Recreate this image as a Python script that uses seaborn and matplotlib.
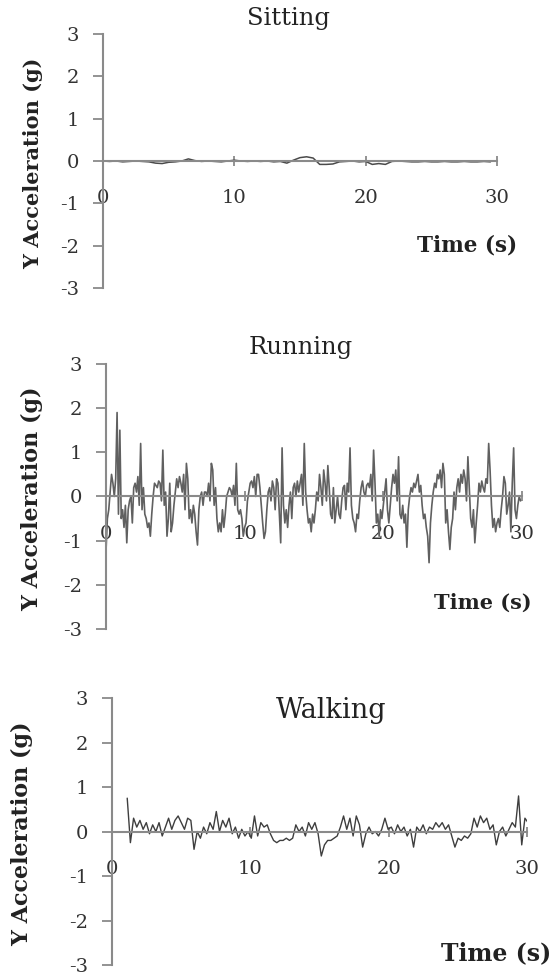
import numpy as np
import pandas as pd
import matplotlib
matplotlib.use("Agg")
import matplotlib.pyplot as plt
import seaborn as sns

# 數據 (Y acceleration, g)
sit_step = 0.5
sit_y = [0.00, -0.01, 0.00, -0.02, -0.01, 0.00, -0.01, -0.02, -0.05, -0.06,
         -0.03, -0.02, 0.00, 0.05, 0.01, -0.01, 0.00, -0.01, -0.02, 0.00,
         0.02, 0.00, -0.01, 0.00, -0.01, 0.00, -0.02, -0.01, -0.05, 0.02,
         0.08, 0.10, 0.07, -0.08, -0.08, -0.07, -0.02, -0.01, 0.00, -0.02,
         -0.01, -0.08, -0.06, -0.08, -0.01, 0.00, -0.01, -0.02, -0.02, -0.01,
         -0.02, -0.02, -0.01, -0.02, -0.02, -0.01, -0.02, -0.02, -0.01, -0.02]

run_step = 0.1
run_y = [-1.25, -0.5, -0.3, 0.1, 0.5, 0.3, 0.0, 0.4,
         1.9, -0.4, 1.5, -0.5, -0.3, -0.7, -0.2, -1.05, -0.3, -0.1, 0.0, -0.6, 0.2, 0.3, 0.1, 0.45, -0.2,
         1.2, -0.3, 0.2, -0.4, -0.5, -0.7, -0.6, -0.9, -0.4, 0.0, 0.3, 0.25, 0.2, 0.35, 0.3, -0.1,
         1.05, -0.2, 0.1, -0.9, -0.5, 0.3, -0.8, -0.6, -0.2, 0.1, 0.4, 0.2, 0.45, 0.3, 0.1, 0.5, -0.3,
         0.75, 0.4, -0.5, -0.3, -0.6, -0.2, -0.4, -0.8, -1.1, -0.3, 0.0, 0.1, -0.2, 0.1, 0.1, 0.0, 0.3, -0.1,
         0.75, 0.6, -0.2, 0.2, -0.5, -0.8, -0.6, -0.8, -0.3, -0.7, -0.4, 0.0, 0.1, 0.2, 0.15, 0.0, 0.25, -0.2,
         0.75, -0.3, -0.4, -0.3, -0.5, -0.9, -0.7, -0.6, -0.1, 0.1, 0.3, 0.35, 0.2, 0.45, 0.0, 0.5,
         0.5, 0.2, -0.2, -0.6, -0.95, -0.8, -0.3, 0.1, 0.2, -0.1, 0.35, 0.2, -0.3, 0.4, 0.3, -0.4, -1.05,
         1.1, -0.2, -0.6, -0.3, -0.7, -0.2, 0.1, -0.5, 0.2, 0.3, 0.0, 0.35, 0.1, 0.3, 0.5, -0.2,
         1.2, 0.1, -0.3, -0.6, -0.5, -0.8, -0.4, -0.6, -0.3, 0.1, -0.1, 0.5, 0.2, -0.2, 0.6, 0.3, -0.1,
         0.7, 0.2, -0.4, -0.5, 0.2, -0.6, -0.3, 0.0, -0.4, -0.5, -0.1, 0.2, 0.25, -0.3, 0.3, 0.1,
         1.1, -0.2, -0.5, -0.6, -0.8, -0.4, -0.5, -0.1, 0.2, 0.35, 0.1, 0.0, 0.25, 0.3, 0.2, 0.5, -0.1,
         1.05, 0.3, -0.6, -0.4, -0.9, -0.3, -0.5, -0.2, 0.1, 0.4, -0.3, -0.6, -0.2, 0.2, 0.5, 0.3, 0.6, -0.1,
         0.9, -0.4, -0.5, -0.2, -0.6, -0.4, -1.15, -0.3, 0.0, 0.2, 0.1, 0.3, 0.2, 0.35, 0.5, 0.1,
         0.25, -0.2, -0.5, -0.4, -0.7, -0.9, -1.5, -0.6, -0.2, 0.1, 0.3, 0.2, 0.5, 0.4, 0.6, 0.2,
         0.75, 0.5, -0.6, -0.3, -0.8, -1.2, -0.7, -0.5, 0.1, -0.3, 0.2, 0.4, 0.1, 0.5, 0.3, 0.6, 0.4, -0.1,
         0.9, 0.2, -0.5, -0.7, -0.3, -1.05, -0.6, -0.2, 0.3, 0.1, 0.35, 0.2, 0.1, 0.4, 0.3,
         1.2, 0.6, -0.2, -0.7, -0.5, -0.8, -0.6, -0.5, -0.7, -0.3, 0.0, 0.45, 0.3, -0.4, -0.2, 0.1, -0.8, 0.3,
         1.1, -0.3, -0.5, -0.2, 0.0, -0.1]

walk_start = 1.1
walk_step = 0.23
walk_y = [0.75, -0.25, 0.3, 0.1, 0.25, 0.05, 0.2, -0.05, 0.15, 0.0,
          0.2, -0.1, 0.1, 0.3, 0.05, 0.25, 0.35, 0.2, 0.05, 0.3,
          0.25, -0.4, 0.0, -0.15, 0.1, -0.05, 0.2, 0.05, 0.45, 0.0,
          0.25, 0.1, 0.3, -0.05, 0.1, -0.15, 0.05, -0.1, 0.0, -0.15,
          0.35, -0.1, 0.2, 0.1, 0.15, -0.05, -0.2, -0.25, -0.2, -0.2,
          -0.15, -0.2, -0.15, 0.15, 0.0, 0.1, -0.1, 0.2, 0.05, 0.2,
          -0.05, -0.55, -0.3, -0.2, -0.2, -0.15, -0.1, 0.1, 0.35, 0.05,
          0.3, -0.1, 0.35, 0.15, -0.35, -0.05, 0.1, -0.05, 0.0, -0.1,
          0.05, 0.3, 0.05, 0.1, -0.05, 0.15, 0.0, 0.1, -0.1, 0.05,
          -0.35, 0.1, 0.0, 0.15, -0.05, 0.1, 0.05, 0.2, 0.1, 0.2,
          0.05, 0.15, -0.1, -0.35, -0.15, -0.2, -0.1, -0.15, -0.05, 0.3,
          0.1, 0.35, 0.2, 0.3, 0.05, 0.15, -0.3, 0.0, 0.1, -0.1,
          0.05, 0.2, 0.1, 0.8, -0.3, 0.3, 0.2]

titles = ["Sitting", "Running", "Walking"]
y_ticks = [-3, -2, -1, 0, 1, 2, 3]
y_tick_labels = ["-3", "-2", "-1", "0", "1", "2", "3"]
x_ticks = [0, 10, 20, 30]

sit = pd.DataFrame({"t": np.arange(len(sit_y)) * sit_step, "acc": sit_y})
run = pd.DataFrame({"t": np.arange(len(run_y)) * run_step, "acc": run_y})
walk = pd.DataFrame({"t": walk_start + np.arange(len(walk_y)) * walk_step, "acc": walk_y})

sns.set_theme(style="white")
plt.rcParams["font.family"] = ["DejaVu Serif"]

fig = plt.figure(figsize=(5.52, 9.8), dpi=100)
# rect, title xy, title size, ylabel x, ylabel size, "Time (s)" xy, time size, colour, lw
panels = [
    (sit, [0.1866, 0.7061, 0.7138, 0.2592], (0.472, 1.063), 17.5, -0.152, 15,
     (1.051, 0.169), 15.5, "#4a4a4a", 1.1),
    (run, [0.1920, 0.3582, 0.7536, 0.2704], (0.469, 1.064), 17.5, -0.151, 16,
     (1.024, 0.098), 15, "#606060", 1.2),
    (walk, [0.2029, 0.0153, 0.7518, 0.2724], (0.528, 0.955), 19.5, -0.190, 16,
     (1.058, 0.045), 17, "#3e3e3e", 1.0),
]

for (df, rect, title_xy, title_fs, ylab_x, ylab_fs, time_xy, time_fs, color, lw), title in zip(panels, titles):
    ax = fig.add_axes(rect)
    sns.lineplot(data=df, x="t", y="acc", ax=ax, color=color, linewidth=lw,
                 estimator=None, sort=False)
    ax.set_xlim(0, 30)
    ax.set_ylim(-3, 3)
    ax.set_yticks(y_ticks)
    ax.set_yticklabels(y_tick_labels)
    ax.set_xticks(x_ticks)
    ax.set_xlabel("")
    ax.set_ylabel("Y Acceleration (g)", fontsize=ylab_fs, fontweight="bold", color="#222222")
    ax.yaxis.set_label_coords(ylab_x, 0.49)
    for s in ["top", "right"]:
        ax.spines[s].set_visible(False)
    ax.spines["bottom"].set_position(("data", 0))
    for s in ["left", "bottom"]:
        ax.spines[s].set_color("#8a8a8a")
        ax.spines[s].set_linewidth(1.5)
    ax.tick_params(axis="y", direction="out", length=7, width=1.3, color="#8a8a8a",
                   labelsize=14, labelcolor="#333333", pad=10, left=True)
    ax.tick_params(axis="x", direction="inout", length=7, width=1.3, color="#8a8a8a",
                   labelsize=14, labelcolor="#333333", pad=17, bottom=True)
    ax.text(title_xy[0], title_xy[1], title, transform=ax.transAxes, ha="center",
            va="center", fontsize=title_fs, color="#222222")
    ax.text(time_xy[0], time_xy[1], "Time (s)", transform=ax.transAxes, ha="right",
            va="center", fontsize=time_fs, fontweight="bold", color="#222222")
    ax.patch.set_alpha(0)

fig.savefig("out.png", dpi=100)
